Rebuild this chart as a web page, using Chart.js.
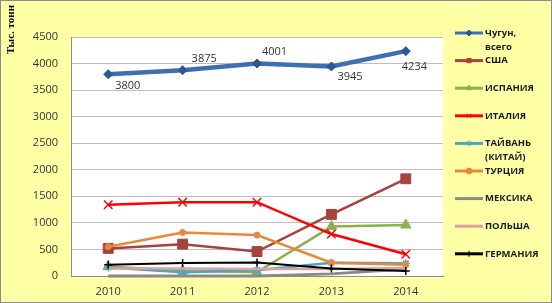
<!DOCTYPE html>
<html>
<head>
<meta charset="utf-8">
<script src="https://cdn.jsdelivr.net/npm/chart.js@4.4.1/dist/chart.umd.min.js"></script>
<style>
  body { margin: 0; background: #fff; }
  canvas { display: block; }
</style>
</head>
<body>
<canvas id="chart" width="552" height="303"></canvas>
<script>
// Years along the x axis
const years = ['2010', '2011', '2012', '2013', '2014'];

// Series values, thousand tonnes
const pigIron  = [3800, 3875, 4001, 3945, 4234];
const usa      = [520, 600, 460, 1160, 1830];
const spain    = [180, 100, 70, 930, 960];
const italy    = [1340, 1390, 1390, 790, 410];
const taiwan   = [160, 70, 110, 250, 240];
const turkey   = [550, 820, 770, 250, 210];
const mexico   = [0, 0, 0, 40, 130];
const poland   = [140, 140, 130, 130, 150];
const germany  = [210, 245, 255, 140, 95];

// Axis ticks
const yTicks = [0, 500, 1000, 1500, 2000, 2500, 3000, 3500, 4000, 4500];

// Legend labels (two-line ones split with \n)
const seriesNames = ['Чугун,\nвсего', 'США', 'ИСПАНИЯ', 'ИТАЛИЯ', 'ТАЙВАНЬ\n(КИТАЙ)', 'ТУРЦИЯ', 'МЕКСИКА', 'ПОЛЬША', 'ГЕРМАНИЯ'];

// Styling for each series
const styles = [
    { color: '#3f6fb0', marker: '#2b5797', width: 4.5, point: 'rectRot', radius: 4.5 },
    { color: '#a8423f', marker: '#a8423f', width: 2.5, point: 'rect', radius: 7 },
    { color: '#8db04f', marker: '#8db04f', width: 2.5, point: 'triangle', radius: 6 },
    { color: '#ff0000', marker: '#ff0000', width: 2.5, point: 'crossRot', radius: 6 },
    { color: '#4aa6c4', marker: '#4aa6c4', width: 2.5, point: 'star', radius: 4 },
    { color: '#e8893a', marker: '#e8893a', width: 2.5, point: 'circle', radius: 3 },
    { color: '#8a8a8a', marker: '#8a8a8a', width: 3, point: 'line', radius: 0 },
    { color: '#d9a3a1', marker: '#d9a3a1', width: 2.5, point: 'line', radius: 0 },
    { color: '#000000', marker: '#000000', width: 2, point: 'cross', radius: 4 }
];

const allSeries = [pigIron, usa, spain, italy, taiwan, turkey, mexico, poland, germany];

// Where the value labels of the first series sit relative to each point
const labelOffsets = [[7, 12], [9, -11], [5, -12], [6, 10], [-4, 16]];

const datasets = allSeries.map((values, i) => ({
    label: seriesNames[i],
    data: values,
    borderColor: styles[i].color,
    backgroundColor: styles[i].marker,
    borderWidth: styles[i].width,
    pointStyle: styles[i].point,
    pointRadius: styles[i].radius,
    pointBorderColor: styles[i].marker,
    pointBackgroundColor: styles[i].marker,
    pointBorderWidth: (styles[i].point === 'crossRot' || styles[i].point === 'cross' || styles[i].point === 'star') ? 1.5 : 1,
    tension: 0,
    clip: false,
    order: allSeries.length - i
}));

// Yellow background, white plot area, outer frame, axis title
const backgroundPlugin = {
    id: 'background',
    beforeDraw(chart) {
        const ctx = chart.ctx;
        const a = chart.chartArea;
        ctx.save();
        ctx.fillStyle = '#ffffa6';
        ctx.fillRect(0, 0, chart.width, chart.height);
        ctx.fillStyle = '#ffffff';
        ctx.fillRect(a.left, a.top, a.right - a.left, a.bottom - a.top);
        ctx.restore();
    },
    afterDraw(chart) {
        const ctx = chart.ctx;
        ctx.save();
        ctx.strokeStyle = '#8c8c8c';
        ctx.lineWidth = 1;
        ctx.strokeRect(0.5, 0.5, chart.width - 1, chart.height - 1);
        ctx.translate(14, 5);
        ctx.rotate(-Math.PI / 2);
        ctx.fillStyle = '#000';
        ctx.font = 'bold 11px "Liberation Serif"';
        ctx.textAlign = 'right';
        ctx.textBaseline = 'alphabetic';
        ctx.fillText('Тыс. тонн', 0, 0);
        ctx.restore();
    }
};

// Value labels for the first series
const valueLabelPlugin = {
    id: 'valueLabels',
    afterDatasetsDraw(chart) {
        const ctx = chart.ctx;
        const meta = chart.getDatasetMeta(0);
        ctx.save();
        ctx.font = '11px "Open Sans"';
        ctx.fillStyle = '#333';
        ctx.textBaseline = 'middle';
        ctx.textAlign = 'left';
        meta.data.forEach((pt, i) => {
            const off = labelOffsets[i];
            ctx.fillText(String(pigIron[i]), pt.x + off[0], pt.y + off[1]);
        });
        ctx.restore();
    }
};

// Legend on the right, drawn by hand
const legendPlugin = {
    id: 'sideLegend',
    afterDraw(chart) {
        const ctx = chart.ctx;
        const x0 = 455, x1 = 483, yStart = 33, step = 27.6;
        ctx.save();
        chart.data.datasets.forEach((ds, i) => {
            const y = yStart + i * step;
            const st = styles[i];
            ctx.strokeStyle = st.color;
            ctx.lineWidth = 3;
            ctx.beginPath();
            ctx.moveTo(x0, y);
            ctx.lineTo(x1, y);
            ctx.stroke();
            if (st.radius > 0) {
                ctx.fillStyle = st.marker;
                ctx.strokeStyle = st.marker;
                ctx.lineWidth = 1;
                Chart.helpers.drawPoint(ctx, { pointStyle: st.point, radius: 3, borderWidth: 1 }, (x0 + x1) / 2, y);
            }
            ctx.fillStyle = '#1a1a1a';
            ctx.font = 'bold 9.5px "Open Sans"';
            ctx.textAlign = 'left';
            ctx.textBaseline = 'middle';
            const lines = seriesNames[i].split('\n');
            lines.forEach((line, k) => {
                ctx.fillText(line, x1 + 2, y + k * 14);
            });
        });
        ctx.restore();
    }
};

new Chart(document.getElementById('chart'), {
    type: 'line',
    data: {
        labels: years,
        datasets: datasets
    },
    options: {
        responsive: false,
        animation: false,
        layout: {
            padding: { top: 37, right: 109, left: 0, bottom: 0 }
        },
        plugins: {
            legend: { display: false },
            tooltip: { enabled: false }
        },
        scales: {
            x: {
                offset: true,
                grid: { display: false, drawTicks: false },
                border: { color: '#8c8c8c', width: 1 },
                ticks: {
                    color: '#333',
                    padding: 9,
                    font: { family: '"Open Sans"', size: 11 }
                },
                afterFit: function(scale) { scale.height = 27; }
            },
            y: {
                min: 0,
                max: 4500,
                afterBuildTicks: function(scale) {
                    scale.ticks = yTicks.map(v => ({ value: v }));
                },
                grid: { color: '#bdbdbd', drawTicks: false },
                border: { color: '#8c8c8c', width: 1 },
                ticks: {
                    color: '#333',
                    padding: 13,
                    font: { family: '"Open Sans"', size: 11 },
                    callback: function(value) { return String(value); }
                },
                afterFit: function(scale) { scale.width = 71; }
            }
        }
    },
    plugins: [backgroundPlugin, valueLabelPlugin, legendPlugin]
});
</script>
</body>
</html>
